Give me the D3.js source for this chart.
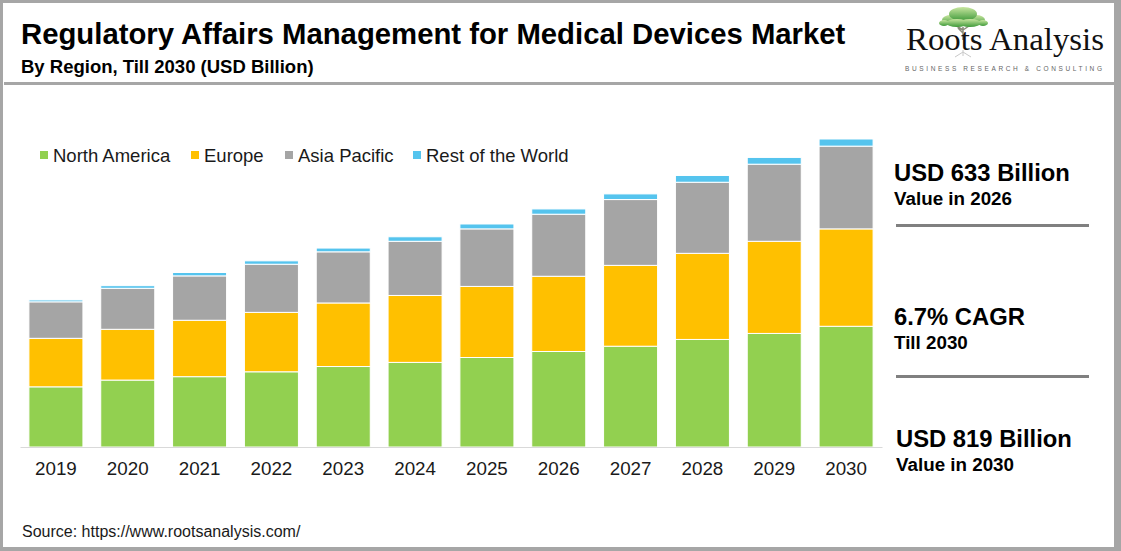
<!DOCTYPE html>
<html lang="en">
<head>
  <meta charset="UTF-8">
  <title>Regulatory Affairs Management for Medical Devices Market</title>
  <script src="https://cdn.jsdelivr.net/npm/d3@7/dist/d3.min.js"></script>
  <style>
    html, body { margin: 0; padding: 0; background: #fff; }
    svg { display: block; font-family: "Liberation Sans", Arial, sans-serif; }
  </style>
</head>
<body>
  <svg class="chart"></svg>

  <script>
    // values (USD Billion)
    const years = ['2019', '2020', '2021', '2022', '2023', '2024', '2025', '2026', '2027', '2028', '2029', '2030'];
    const northAmerica = [160, 178, 187, 200, 214, 225, 238, 254, 268, 286, 302, 321];
    const europe = [129, 135, 150, 158, 169, 178, 189, 200, 215, 229, 245, 259];
    const asiaPacific = [97, 109, 118, 128, 136, 144, 153, 165, 175, 189, 205, 220];
    const restOfWorld = [5, 7, 9, 9, 10, 12, 13, 14, 15, 18, 18, 19];

    const seriesNames = ['North America', 'Europe', 'Asia Pacific', 'Rest of the World'];
    const seriesKeys = ['na', 'eu', 'ap', 'row'];
    const colors = ['#92d050', '#ffc000', '#a5a5a5', '#55c4ee'];

    const highlights = [
      { big: 'USD 633 Billion', small: 'Value in 2026' },
      { big: '6.7% CAGR', small: 'Till 2030' },
      { big: 'USD 819 Billion', small: 'Value in 2030' }
    ];

    const w = 1121;
    const h = 551;

    const table = years.map((y, i) => ({
      year: y, na: northAmerica[i], eu: europe[i], ap: asiaPacific[i], row: restOfWorld[i]
    }));

    const svg = d3.select('.chart')
      .attr('width', w)
      .attr('height', h);

    // frame
    svg.append('rect').attr('width', w).attr('height', h).attr('fill', '#a6a6a6');
    svg.append('rect').attr('x', 3).attr('y', 3).attr('width', 1111).attr('height', 544).attr('fill', '#fff');
    svg.append('rect').attr('x', 4).attr('y', 82).attr('width', 1110).attr('height', 3).attr('fill', '#a6a6a6');

    // header
    svg.append('text')
      .attr('x', 21).attr('y', 44)
      .attr('font-size', 29.3).attr('font-weight', 'bold').attr('fill', '#000')
      .text('Regulatory Affairs Management for Medical Devices Market');
    svg.append('text')
      .attr('x', 21).attr('y', 73)
      .attr('font-size', 18.5).attr('font-weight', 'bold').attr('fill', '#000')
      .text('By Region, Till 2030 (USD Billion)');

    // logo
    const defs = svg.append('defs');
    const grad = defs.append('linearGradient').attr('id', 'leaf').attr('x1', 0).attr('y1', 0).attr('x2', 0).attr('y2', 1);
    grad.append('stop').attr('offset', '0%').attr('stop-color', '#c8e6a0');
    grad.append('stop').attr('offset', '100%').attr('stop-color', '#3f9a3a');

    const logo = svg.append('g');
    logo.append('path')
      .attr('d', 'M963,27 L963,40 M963,30 L955,25 M963,30 L972,24 M963,33 L958,28')
      .attr('stroke', '#8a8a7a').attr('stroke-width', 1.5).attr('fill', 'none');
    [[951, 20, 9, 5], [976, 20, 9, 5], [963, 14, 14, 7], [957, 23, 11, 4], [970, 23, 11, 4], [944, 23, 5, 3], [983, 23, 5, 3]]
      .forEach(e => logo.append('ellipse')
        .attr('cx', e[0]).attr('cy', e[1]).attr('rx', e[2]).attr('ry', e[3])
        .attr('fill', 'url(#leaf)'));
    logo.append('path')
      .attr('d', 'M963,50 L963,56 M963,52 L955,57 M963,52 L971,57')
      .attr('stroke', '#c8c8c8').attr('stroke-width', 1).attr('fill', 'none');
    logo.append('text')
      .attr('x', 906).attr('y', 50)
      .attr('font-family', '"Liberation Serif", "Times New Roman", serif')
      .attr('font-size', 32).attr('fill', '#111')
      .attr('textLength', 198).attr('lengthAdjust', 'spacingAndGlyphs')
      .text('Roots Analysis');
    logo.append('text')
      .attr('x', 905).attr('y', 71)
      .attr('font-size', 6.5).attr('fill', '#666')
      .attr('textLength', 197).attr('lengthAdjust', 'spacing')
      .text('BUSINESS RESEARCH & CONSULTING');

    // scales
    const xScale = d3.scaleBand()
      .domain(years)
      .range([20, 882])
      .paddingInner(0.248)
      .paddingOuter(0.124);

    const yScale = d3.scaleLinear()
      .domain([0, 819])
      .range([447, 139]);

    const stacked = d3.stack().keys(seriesKeys)(table);

    svg.append('g')
      .selectAll('g')
      .data(stacked)
      .enter()
      .append('g')
      .attr('fill', (d, i) => colors[i])
      .selectAll('rect')
      .data(d => d)
      .enter()
      .append('rect')
      .attr('x', d => xScale(d.data.year))
      .attr('y', d => yScale(d[1]))
      .attr('width', xScale.bandwidth())
      .attr('height', d => yScale(d[0]) - yScale(d[1]))
      .attr('stroke', '#fff')
      .attr('stroke-width', 1);

    const xAxis = d3.axisBottom(xScale).tickSize(0).tickPadding(14.5);
    const axisG = svg.append('g')
      .attr('transform', 'translate(0,447)')
      .call(xAxis);
    axisG.select('.domain').attr('stroke', '#d9d9d9').attr('stroke-width', 1.2);
    axisG.selectAll('text')
      .attr('font-size', 18.8)
      .attr('font-family', '"Liberation Sans", Arial, sans-serif')
      .attr('fill', '#1a1a1a');

    // legend
    const legendX = [40, 191, 285, 413];
    const legend = svg.append('g');
    seriesNames.forEach((name, i) => {
      legend.append('rect')
        .attr('x', legendX[i]).attr('y', 151)
        .attr('width', 8).attr('height', 8)
        .attr('fill', colors[i]);
      legend.append('text')
        .attr('x', legendX[i] + 13).attr('y', 161.5)
        .attr('font-size', 18.5).attr('fill', '#1a1a1a')
        .text(name);
    });

    // right side highlights
    const bigY = [181, 325, 447];
    const side = svg.append('g');
    highlights.forEach((d, i) => {
      side.append('text')
        .attr('x', i === 2 ? 896 : 894).attr('y', bigY[i])
        .attr('font-size', 23.8).attr('font-weight', 'bold').attr('fill', '#000')
        .text(d.big);
      side.append('text')
        .attr('x', i === 2 ? 896 : 894).attr('y', bigY[i] + 23.5)
        .attr('font-size', 18.8).attr('font-weight', 'bold').attr('fill', '#000')
        .text(d.small);
    });
    [225.5, 376.5].forEach(y => {
      side.append('line')
        .attr('x1', 896).attr('x2', 1089)
        .attr('y1', y).attr('y2', y)
        .attr('stroke', '#808080').attr('stroke-width', 3);
    });

    // source
    svg.append('text')
      .attr('x', 22).attr('y', 537)
      .attr('font-size', 16).attr('fill', '#1a1a1a')
      .text('Source: https://www.rootsanalysis.com/');
  </script>
</body>
</html>
